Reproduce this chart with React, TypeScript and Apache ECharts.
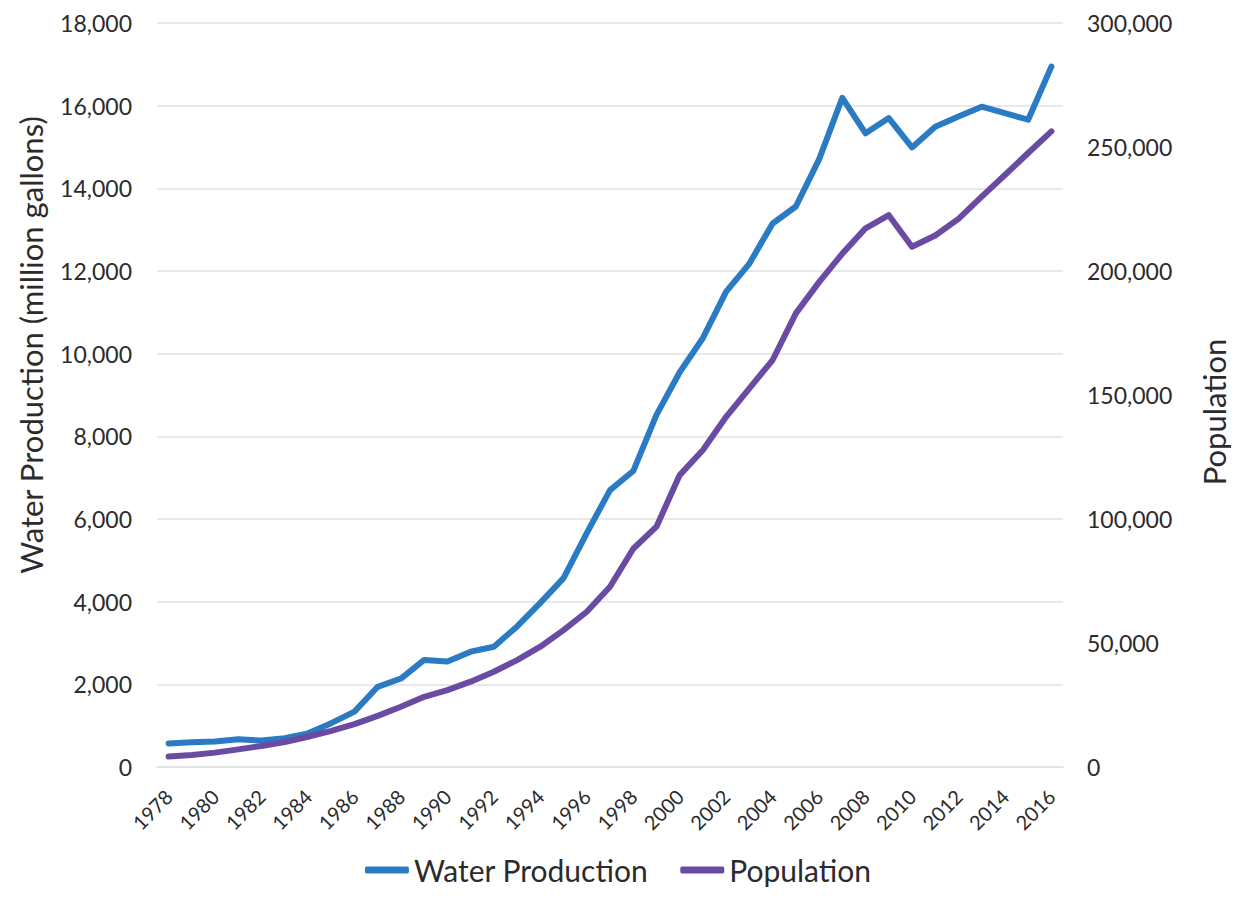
import React, { useEffect, useRef } from "react";
import * as echarts from "echarts";

const years: string[] = [
  "1978", "1979", "1980", "1981", "1982", "1983", "1984", "1985", "1986", "1987",
  "1988", "1989", "1990", "1991", "1992", "1993", "1994", "1995", "1996", "1997",
  "1998", "1999", "2000", "2001", "2002", "2003", "2004", "2005", "2006", "2007",
  "2008", "2009", "2010", "2011", "2012", "2013", "2014", "2015", "2016",
];

const waterProduction: number[] = [
  570, 600, 615, 670, 640, 695, 815, 1060, 1340, 1940,
  2140, 2590, 2550, 2790, 2910, 3400, 3970, 4570, 5660, 6700,
  7160, 8520, 9550, 10380, 11500, 12180, 13150, 13560, 14700, 16190,
  15330, 15700, 14990, 15490, 15740, 15975, 15820, 15660, 16945,
];

const population: number[] = [
  4200, 4800, 5800, 7100, 8500, 10100, 12200, 14600, 17300, 20600,
  24300, 28300, 31000, 34400, 38400, 43100, 48500, 55200, 62600, 72700,
  88000, 96900, 117700, 127800, 141200, 152700, 164100, 182900, 195500, 207000,
  217200, 222500, 209800, 214300, 221000, 230000, 238700, 247600, 256300,
];

const seriesNames = ["Water Production", "Population"];
const leftAxisTitle = "Water Production (million gallons)";
const rightAxisTitle = "Population";

const FONT = "Lato, 'Open Sans', sans-serif";
const BLUE = "#2a7bc3";
const PURPLE = "#6a4ba3";
const TEXT = "#2b2b2b";

export default function App() {
  const ref = useRef<HTMLDivElement>(null);

  useEffect(() => {
    document.body.style.margin = "0";
    if (!ref.current) return;
    const chart = echarts.init(ref.current, undefined, { renderer: "svg" });
    const fmt = (v: number) => v.toLocaleString("en-US");
    chart.setOption({
      animation: false,
      backgroundColor: "#ffffff",
      textStyle: { fontFamily: FONT },
      grid: { left: 157, right: 173, top: 23, bottom: 135, containLabel: false },
      legend: {
        bottom: 12,
        left: "center",
        icon: "roundRect",
        itemWidth: 44,
        itemHeight: 7,
        itemGap: 32,
        textStyle: { fontSize: 30, color: TEXT, fontFamily: FONT },
        data: seriesNames,
      },
      graphic: [
        {
          type: "text",
          x: 31,
          y: 345,
          rotation: Math.PI / 2,
          style: {
            text: leftAxisTitle,
            fontSize: 31,
            fontFamily: FONT,
            fill: TEXT,
            align: "center",
            verticalAlign: "middle",
          },
        },
        {
          type: "text",
          x: 1214,
          y: 412,
          rotation: Math.PI / 2,
          style: {
            text: rightAxisTitle,
            fontSize: 31,
            fontFamily: FONT,
            fill: TEXT,
            align: "center",
            verticalAlign: "middle",
          },
        },
      ],
      xAxis: {
        type: "category",
        data: years,
        boundaryGap: true,
        axisLine: { show: true, lineStyle: { color: "#e2e2e2", width: 1.5 } },
        axisTick: { show: false },
        axisLabel: {
          interval: 1,
          rotate: 45,
          fontSize: 20,
          color: TEXT,
          margin: 26,
          fontFamily: FONT,
        },
      },
      yAxis: [
        {
          type: "value",
          min: 0,
          max: 18000,
          interval: 2000,
          axisLine: { show: false },
          axisTick: { show: false },
          splitLine: { lineStyle: { color: "#e2e2e2", width: 1.5 } },
          axisLabel: { fontSize: 23, color: TEXT, margin: 25, formatter: fmt, fontFamily: FONT },
        },
        {
          type: "value",
          min: 0,
          max: 300000,
          interval: 50000,
          position: "right",
          axisLine: { show: false },
          axisTick: { show: false },
          splitLine: { show: false },
          axisLabel: { fontSize: 23, color: TEXT, margin: 24, formatter: fmt, fontFamily: FONT },
        },
      ],
      series: [
        {
          name: seriesNames[0],
          type: "line",
          data: waterProduction,
          yAxisIndex: 0,
          showSymbol: false,
          symbol: "none",
          lineStyle: { color: BLUE, width: 6, cap: "round", join: "round" },
          itemStyle: { color: BLUE },
        },
        {
          name: seriesNames[1],
          type: "line",
          data: population,
          yAxisIndex: 1,
          showSymbol: false,
          symbol: "none",
          lineStyle: { color: PURPLE, width: 6, cap: "round", join: "round" },
          itemStyle: { color: PURPLE },
        },
      ],
    });
    return () => chart.dispose();
  }, []);

  return <div ref={ref} style={{ width: 1236, height: 902 }} />;
}
